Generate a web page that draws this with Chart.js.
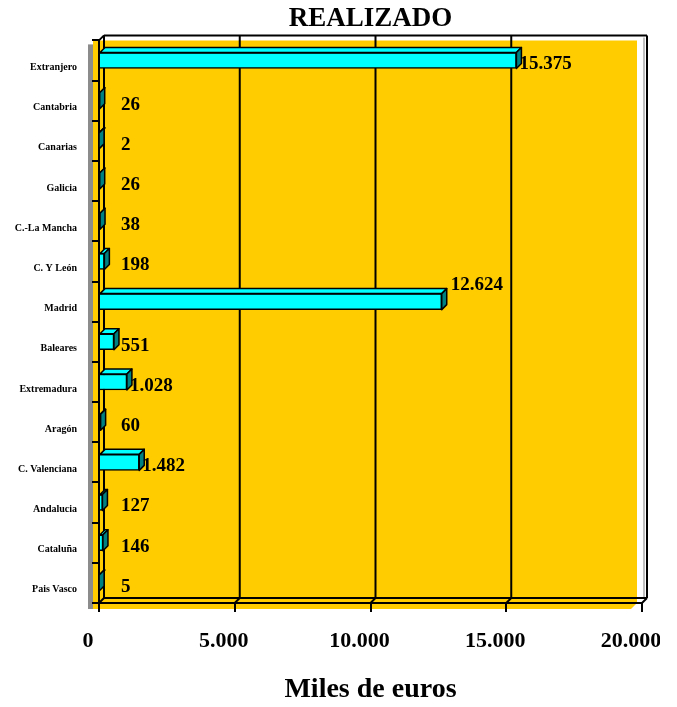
<!DOCTYPE html>
<html>
<head>
<meta charset="utf-8">
<script src="https://cdn.jsdelivr.net/npm/chart.js@4.4.1/dist/chart.umd.min.js"></script>
<style>
  body { margin: 0; background: #fff; }
  #wrap { width: 660px; height: 707px; overflow: hidden; }
</style>
</head>
<body>
<div id="wrap"><canvas id="chart" width="660" height="707"></canvas></div>
<script>
// regions, top to bottom as in the picture
const categories = ['Extranjero', 'Cantabria', 'Canarias', 'Galicia', 'C.-La Mancha', 'C. Y León', 'Madrid',
  'Baleares', 'Extremadura', 'Aragón', 'C. Valenciana', 'Andalucia', 'Cataluña', 'Pais Vasco'];
// miles de euros
const realizado = [15375, 26, 2, 26, 38, 198, 12624, 551, 1028, 60, 1482, 127, 146, 5];
const tickValues = [0, 5000, 10000, 15000, 20000];

const FONT = '"Liberation Serif", "Times New Roman", serif';
const DX = 5, DY = 5; // depth of the 3d effect

// 15375 -> "15.375"
const fmt = v => String(v).replace(/\B(?=(\d{3})+(?!\d))/g, '.');

function line(ctx, x1, y1, x2, y2) {
    ctx.beginPath();
    ctx.moveTo(x1, y1);
    ctx.lineTo(x2, y2);
    ctx.stroke();
}

function poly(ctx, pts, fill) {
    ctx.beginPath();
    ctx.moveTo(pts[0][0], pts[0][1]);
    pts.slice(1).forEach(p => ctx.lineTo(p[0], p[1]));
    ctx.closePath();
    ctx.fillStyle = fill;
    ctx.fill();
    ctx.stroke();
}

// gold walls, back frame and gridlines behind the bars
const wall3d = {
    id: 'wall3d',
    beforeDraw(chart) {
        const { ctx, chartArea: a, scales: { x } } = chart;
        ctx.save();
        ctx.fillStyle = '#8c8c8c';
        ctx.fillRect(a.left - 11, a.top + 4, 5, a.bottom - a.top + 2);

        ctx.fillStyle = '#ffcc00';
        ctx.beginPath();
        ctx.moveTo(a.left - 6, a.top);
        ctx.lineTo(a.right - 5, a.top);
        ctx.lineTo(a.right - 5, a.bottom);
        ctx.lineTo(a.right - 11, a.bottom + 6);
        ctx.lineTo(a.left - 6, a.bottom + 6);
        ctx.closePath();
        ctx.fill();

        ctx.strokeStyle = '#c0c0c0';
        ctx.lineWidth = 2;
        line(ctx, a.right + DX - 3, a.top - DY + 2, a.right + DX - 3, a.bottom - DY);

        ctx.strokeStyle = '#000';
        ctx.lineWidth = 2;
        tickValues.forEach(v => {
            const px = x.getPixelForValue(v);
            line(ctx, px + DX, a.top - DY, px + DX, a.bottom - DY);
            line(ctx, px + DX, a.bottom - DY, px, a.bottom);
        });
        line(ctx, a.left + DX, a.top - DY, a.right + DX, a.top - DY);
        line(ctx, a.left + DX, a.bottom - DY, a.right + DX, a.bottom - DY);
        line(ctx, a.left, a.top, a.left + DX, a.top - DY);
        ctx.restore();
    }
};

// top and side faces of the bars plus the value labels
const bars3d = {
    id: 'bars3d',
    afterDatasetsDraw(chart, args, opts) {
        const { ctx, chartArea: a } = chart;
        const meta = chart.getDatasetMeta(0);
        ctx.save();
        ctx.strokeStyle = '#000';
        ctx.lineWidth = 1.5;
        ctx.lineJoin = 'round';
        meta.data.forEach((bar, i) => {
            const { x: end, base, y, height } = bar.getProps(['x', 'base', 'y', 'height'], true);
            const top = y - height / 2, bot = y + height / 2;
            poly(ctx, [[base, top], [base + DX, top - DY], [end + DX, top - DY], [end, top]], '#00ffff');
            poly(ctx, [[end, top], [end + DX, top - DY], [end + DX, bot - DY], [end, bot]], '#008080');

            const nudge = opts.labelNudge[categories[i]] || [0, 0];
            ctx.fillStyle = '#000';
            ctx.font = 'bold 19px ' + FONT;
            ctx.textAlign = 'left';
            ctx.textBaseline = 'middle';
            ctx.fillText(fmt(realizado[i]), Math.max(end + 3, a.left + 22) + nudge[0], y + 4 + nudge[1]);
        });
        ctx.restore();
    }
};

new Chart(document.getElementById('chart'), {
    type: 'bar',
    data: {
        labels: categories,
        datasets: [{
            label: 'Realizado',
            data: realizado,
            backgroundColor: '#00ffff',
            borderColor: '#000',
            borderWidth: 1.5,
            barThickness: 16
        }]
    },
    options: {
        indexAxis: 'y',
        responsive: false,
        animation: false,
        layout: { padding: { right: 18 } },
        plugins: {
            legend: { display: false },
            tooltip: { enabled: false },
            title: {
                display: true,
                text: 'REALIZADO',
                fullSize: false,
                color: '#000',
                font: { family: FONT, size: 27, weight: 'bold' },
                padding: { top: 3, bottom: 5 }
            },
            bars3d: { labelNudge: { 'Madrid': [6, -21] } }
        },
        scales: {
            x: {
                min: 0,
                max: 20000,
                afterBuildTicks: scale => { scale.ticks = tickValues.map(v => ({ value: v })); },
                afterFit: scale => { scale.height = 104; scale.paddingRight = 0; scale.paddingLeft = 0; },
                grid: { drawOnChartArea: false, tickLength: 9, lineWidth: 2, color: '#000' },
                border: { color: '#000', width: 2 },
                ticks: {
                    color: '#000',
                    font: { family: FONT, size: 22, weight: 'bold' },
                    padding: 16,
                    labelOffset: -11,
                    maxRotation: 0,
                    callback: v => fmt(v)
                },
                title: {
                    display: true,
                    text: 'Miles de euros',
                    color: '#000',
                    font: { family: FONT, size: 28, weight: 'bold' },
                    padding: { top: 0, bottom: 0 }
                }
            },
            y: {
                afterFit: scale => { scale.width = 99; scale.paddingTop = 0; scale.paddingBottom = 0; },
                grid: { drawOnChartArea: false, tickLength: 7, lineWidth: 2, color: '#000' },
                border: { color: '#000', width: 2 },
                ticks: {
                    color: '#000',
                    font: { family: FONT, size: 10, weight: 'bold' },
                    padding: 15,
                    labelOffset: 7,
                    autoSkip: false
                }
            }
        }
    },
    plugins: [wall3d, bars3d]
});
</script>
</body>
</html>
